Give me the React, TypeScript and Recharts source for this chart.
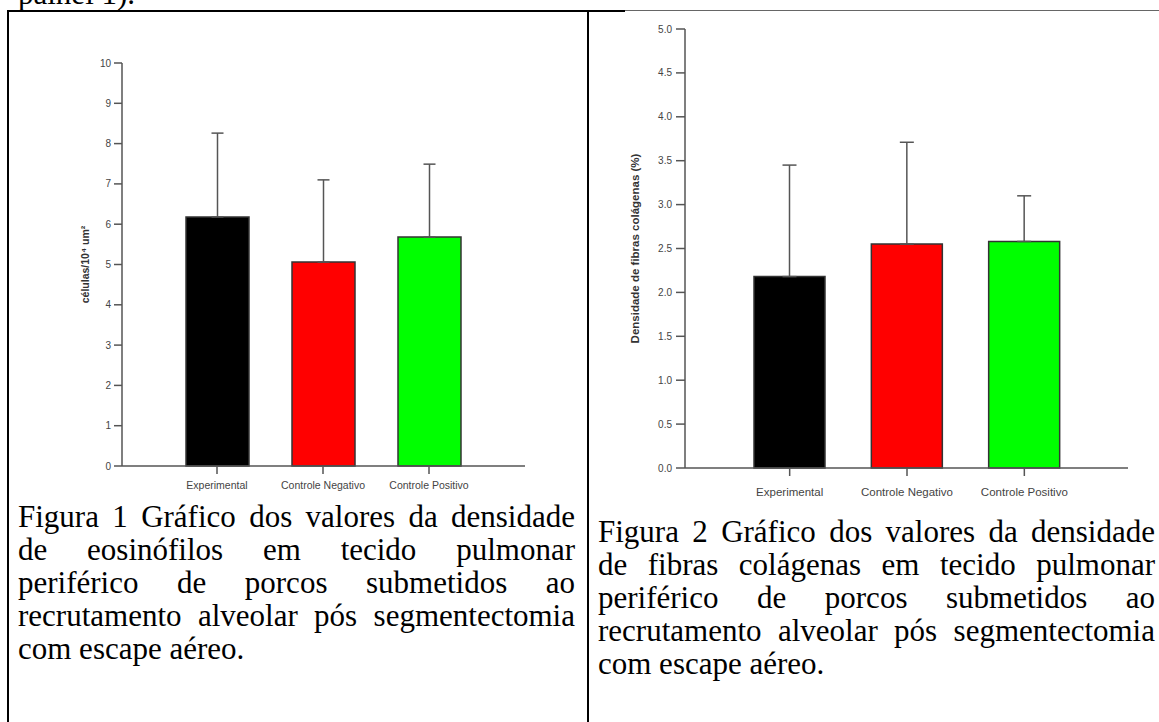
import { BarChart, Bar, XAxis, YAxis, ErrorBar, Cell } from "recharts";

const groups = ["Experimental", "Controle Negativo", "Controle Positivo"];
const barColors = ["#000000", "#ff0000", "#00ff00"];

// Figura 1: eosinófilos (células/10⁴ um²)
const eosMean = [6.18, 5.06, 5.68];
const eosSd = [2.08, 2.04, 1.81];
const eosTicks = [0, 1, 2, 3, 4, 5, 6, 7, 8, 9, 10];

// Figura 2: fibras colágenas (%)
const colMean = [2.18, 2.55, 2.58];
const colSd = [1.27, 1.16, 0.52];
const colTicks = [0, 0.5, 1, 1.5, 2, 2.5, 3, 3.5, 4, 4.5, 5];

const caption1 = [
  "Figura 1 Gráfico dos valores da densidade",
  "de eosinófilos em tecido pulmonar",
  "periférico de porcos submetidos ao",
  "recrutamento alveolar pós segmentectomia",
  "com escape aéreo.",
];
const caption2 = [
  "Figura 2 Gráfico dos valores da densidade",
  "de fibras colágenas em tecido pulmonar",
  "periférico de porcos submetidos ao",
  "recrutamento alveolar pós segmentectomia",
  "com escape aéreo.",
];

const eosData = groups.map((g, i) => ({ name: g, value: eosMean[i], err: [0, eosSd[i]] }));
const colData = groups.map((g, i) => ({ name: g, value: colMean[i], err: [0, colSd[i]] }));

const sans = "'Liberation Sans', Arial, sans-serif";
const serif = "'Liberation Serif', 'Times New Roman', serif";
const axisGrey = "#555";

function YLabel({ viewBox, text, dx, size }: any) {
  const x = viewBox.x + dx;
  const y = viewBox.y + viewBox.height / 2;
  return (
    <text
      x={x}
      y={y}
      transform={`rotate(-90 ${x} ${y})`}
      textAnchor="middle"
      dominantBaseline="central"
      fontFamily={sans}
      fontSize={size}
      fontWeight="bold"
      fill="#333"
    >
      {text}
    </text>
  );
}

function Caption({ lines, left, top }: { lines: string[]; left: number; top: number }) {
  return (
    <div
      style={{
        position: "absolute",
        left,
        top,
        width: 557,
        fontFamily: serif,
        fontSize: 31,
        lineHeight: "33px",
        color: "#000",
      }}
    >
      {lines.map((l, i) => (
        <div
          key={i}
          style={{
            textAlign: i === lines.length - 1 ? "left" : "justify",
            textAlignLast: i === lines.length - 1 ? "left" : "justify",
            whiteSpace: "nowrap",
          }}
        >
          {l}
        </div>
      ))}
    </div>
  );
}

export default function App() {
  return (
    <div
      style={{
        position: "absolute",
        left: 0,
        top: 0,
        width: 1159,
        height: 722,
        overflow: "hidden",
        background: "#fff",
      }}
    >
      {/* tail of the previous page line, cut at the top edge as in the scan */}
      <div
        style={{
          position: "absolute",
          left: 18,
          top: -23,
          fontFamily: serif,
          fontSize: 31,
          lineHeight: "33px",
          whiteSpace: "nowrap",
        }}
      >
        painel 1).
      </div>

      {/* table borders */}
      <div style={{ position: "absolute", left: 7, top: 10, width: 618, height: 2, background: "#000" }} />
      <div style={{ position: "absolute", left: 625, top: 10, width: 534, height: 1, background: "#666" }} />
      <div style={{ position: "absolute", left: 7, top: 10, width: 2, height: 712, background: "#000" }} />
      <div style={{ position: "absolute", left: 587, top: 10, width: 2, height: 712, background: "#000" }} />

      <div style={{ position: "absolute", left: 50, top: 40 }}>
        <BarChart
          width={490}
          height={470}
          data={eosData}
          margin={{ top: 23, right: 15, bottom: 14, left: 0 }}
        >
          <XAxis
            dataKey="name"
            height={30}
            padding={{ left: 42, right: 43 }}
            stroke={axisGrey}
            strokeWidth={1.5}
            tickSize={8}
            tickMargin={8}
            tick={{ fill: "#444", fontSize: 10.5, fontFamily: sans }}
            interval={0}
          />
          <YAxis
            width={72}
            domain={[0, 10]}
            ticks={eosTicks}
            interval={0}
            stroke={axisGrey}
            strokeWidth={1.5}
            tickSize={8}
            tickMargin={3}
            tick={{ fill: "#444", fontSize: 10, fontFamily: sans }}
            label={<YLabel text="células/10⁴ um²" dx={35} size={10.5} />}
          />
          <Bar dataKey="value" barSize={63} stroke="#333" strokeWidth={1.5} isAnimationActive={false}>
            {eosData.map((d, i) => (
              <Cell key={d.name} fill={barColors[i]} />
            ))}
            <ErrorBar dataKey="err" direction="y" width={6} stroke={axisGrey} strokeWidth={1.5} />
          </Bar>
        </BarChart>
      </div>

      <div style={{ position: "absolute", left: 600, top: 10 }}>
        <BarChart
          width={545}
          height={498}
          data={colData}
          margin={{ top: 19, right: 17, bottom: 5, left: 0 }}
        >
          <XAxis
            dataKey="name"
            height={35}
            padding={{ left: 46, right: 45 }}
            stroke={axisGrey}
            strokeWidth={1.5}
            tickSize={8}
            tickMargin={12}
            tick={{ fill: "#444", fontSize: 11.5, fontFamily: sans }}
            interval={0}
          />
          <YAxis
            width={85}
            domain={[0, 5]}
            ticks={colTicks}
            interval={0}
            tickFormatter={(v: number) => v.toFixed(1)}
            stroke={axisGrey}
            strokeWidth={1.5}
            tickSize={9}
            tickMargin={4}
            tick={{ fill: "#444", fontSize: 10, fontFamily: sans }}
            label={<YLabel text="Densidade de fibras colágenas (%)" dx={35} size={11.5} />}
          />
          <Bar dataKey="value" barSize={71} stroke="#333" strokeWidth={1.5} isAnimationActive={false}>
            {colData.map((d, i) => (
              <Cell key={d.name} fill={barColors[i]} />
            ))}
            <ErrorBar dataKey="err" direction="y" width={7} stroke={axisGrey} strokeWidth={1.5} />
          </Bar>
        </BarChart>
      </div>

      <Caption lines={caption1} left={18} top={500} />
      <Caption lines={caption2} left={598} top={515} />
    </div>
  );
}
